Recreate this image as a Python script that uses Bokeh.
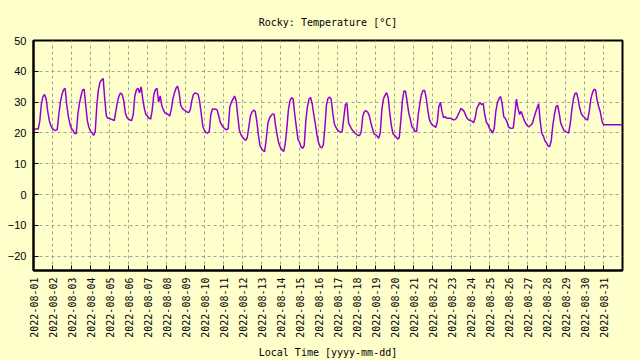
import math
import pandas as pd
from bokeh.plotting import figure
from bokeh.models import (FixedTicker, DatetimeTickFormatter, Range1d,
                          ColumnDataSource, GlobalInlineStyleSheet)
from bokeh.embed import file_html
from bokeh.resources import INLINE

# ---- data: 2-hourly temperature readings [°C], one list per day (00:00 .. 22:00)
aug01 = [21.3, 21.3, 21.3, 21.3, 24.0, 29.5, 31.8, 32.5, 31.0, 27.0, 24.0, 22.3]
aug02 = [21.4, 21.0, 20.8, 21.2, 26.0, 30.0, 32.5, 34.0, 34.5, 29.0, 25.5, 23.0]
aug03 = [21.4, 20.8, 19.8, 19.8, 26.0, 29.5, 32.0, 34.0, 34.2, 29.0, 24.0, 21.8]
aug04 = [20.6, 20.0, 19.2, 20.5, 29.0, 34.0, 36.5, 37.2, 37.7, 31.0, 25.5, 24.8]
aug05 = [24.8, 24.5, 24.3, 24.0, 27.0, 30.0, 32.0, 33.0, 32.5, 30.5, 26.5, 25.0]
aug06 = [24.5, 24.2, 24.0, 26.0, 32.0, 34.0, 34.5, 33.0, 35.0, 31.0, 28.0, 26.0]
aug07 = [25.5, 24.8, 24.5, 27.5, 32.5, 34.0, 34.5, 30.0, 32.0, 29.0, 27.5, 26.5]
aug08 = [26.3, 26.0, 25.5, 27.5, 31.0, 33.0, 34.5, 35.2, 33.0, 29.0, 28.0, 27.5]
aug09 = [27.2, 26.8, 26.6, 27.5, 30.5, 32.5, 33.0, 32.8, 32.5, 30.0, 26.0, 22.0]
aug10 = [20.8, 20.1, 20.0, 20.5, 26.0, 27.8, 27.8, 27.7, 27.5, 25.5, 23.5, 22.5]
aug11 = [21.8, 21.3, 21.0, 21.5, 28.5, 30.0, 31.0, 32.0, 30.5, 25.5, 21.0, 19.5]
aug12 = [18.7, 18.0, 17.6, 18.5, 22.0, 25.5, 26.8, 27.4, 27.0, 24.0, 19.5, 16.0]
aug13 = [15.0, 14.3, 14.0, 18.0, 23.0, 24.8, 25.6, 26.2, 26.0, 22.0, 19.0, 16.5]
aug14 = [15.2, 14.5, 14.0, 16.5, 21.5, 27.5, 30.5, 31.5, 31.0, 26.0, 22.0, 18.0]
aug15 = [17.0, 15.5, 15.0, 16.0, 24.0, 28.5, 31.0, 31.5, 29.5, 26.0, 23.0, 19.5]
aug16 = [17.0, 15.5, 15.2, 16.0, 21.5, 29.0, 31.2, 31.7, 31.0, 26.5, 23.0, 21.8]
aug17 = [21.0, 20.5, 20.2, 20.6, 25.0, 29.3, 29.5, 23.2, 22.2, 21.2, 20.6, 20.0]
aug18 = [19.6, 19.2, 19.2, 20.5, 25.5, 27.0, 27.2, 26.8, 25.7, 23.5, 21.6, 19.8]
aug19 = [19.5, 19.0, 18.3, 20.0, 27.5, 31.0, 32.2, 33.1, 31.5, 26.5, 22.5, 19.8]
aug20 = [19.3, 18.7, 18.0, 18.5, 24.0, 30.5, 33.7, 33.5, 30.0, 26.5, 24.5, 22.0]
aug21 = [21.5, 20.5, 20.5, 26.0, 29.5, 32.5, 33.8, 33.8, 31.5, 27.5, 24.5, 23.2]
aug22 = [22.5, 22.3, 21.8, 23.5, 28.5, 30.0, 27.0, 25.0, 25.3, 24.8, 24.8, 24.8]
aug23 = [24.7, 24.3, 24.3, 24.7, 25.7, 26.8, 28.0, 27.5, 27.0, 25.7, 24.7, 24.2]
aug24 = [24.0, 23.8, 23.3, 25.0, 28.0, 29.0, 29.8, 29.2, 29.6, 26.0, 23.5, 22.8]
aug25 = [21.5, 20.8, 20.0, 21.5, 27.0, 29.8, 31.2, 31.8, 29.5, 25.3, 24.7, 23.7]
aug26 = [22.0, 21.6, 21.5, 21.6, 26.0, 31.0, 28.0, 26.0, 27.0, 25.5, 24.0, 23.0]
aug27 = [22.3, 22.0, 22.5, 23.0, 24.8, 26.5, 28.0, 29.5, 24.0, 20.0, 19.0, 17.5]
aug28 = [16.8, 15.8, 15.6, 17.5, 22.5, 26.0, 28.5, 29.0, 26.5, 23.2, 22.0, 20.8]
aug29 = [20.5, 20.2, 20.0, 23.0, 27.5, 31.0, 32.8, 33.0, 31.0, 28.0, 26.2, 25.5]
aug30 = [25.0, 24.5, 24.2, 27.0, 31.0, 33.0, 34.2, 34.0, 30.5, 28.5, 26.8, 24.0]
aug31 = [22.7, 22.7, 22.7, 22.7, 22.7, 22.7, 22.7, 22.7, 22.7, 22.7, 22.7, 22.7]
sep01 = [22.7]

tick_dates = ["2022-08-%02d" % d for d in range(1, 32)]
y_ticks = [-20, -10, 0, 10, 20, 30, 40, 50]
title_text = "Rocky: Temperature [°C]"
x_label = "Local Time [yyyy-mm-dd]"

# ---- build series
daily = [aug01, aug02, aug03, aug04, aug05, aug06, aug07, aug08, aug09, aug10,
         aug11, aug12, aug13, aug14, aug15, aug16, aug17, aug18, aug19, aug20,
         aug21, aug22, aug23, aug24, aug25, aug26, aug27, aug28, aug29, aug30,
         aug31, sep01]
temps = [v for day in daily for v in day]
start = pd.Timestamp("2022-08-01 00:00")
times = [start + pd.Timedelta(hours=2 * i) for i in range(len(temps))]
src = ColumnDataSource(dict(t=times, temp=temps))

def ms(ts):
    return pd.Timestamp(ts).value // 10**6

BG = "#ffffcc"
GRID = "#a0a0a0"
LINE = "#9400d3"
MONO = "DejaVu Sans Mono"

p = figure(width=640, height=360, output_backend="svg", toolbar_location=None,
           x_axis_type="datetime",
           x_range=Range1d(ms("2022-08-01"), ms("2022-09-01")),
           y_range=Range1d(-24.6, 50),
           min_border_left=33, min_border_right=18, min_border_top=40,
           min_border_bottom=89,
           background_fill_color=BG, border_fill_color=BG,
           outline_line_color="black", outline_line_width=2,
           stylesheets=[GlobalInlineStyleSheet(css="body { background-color: #ffffcc; }")])

p.title.text = title_text
p.title.align = "center"
p.title.text_font = MONO
p.title.text_font_size = "10px"
p.title.text_font_style = "normal"
p.title.text_color = "black"
p.title.standoff = 26

p.line("t", "temp", source=src, line_color=LINE, line_width=1.5)

# x axis
xa = p.xaxis[0]
xa.ticker = FixedTicker(ticks=[ms(d) for d in tick_dates])
xa.formatter = DatetimeTickFormatter(days="%Y-%m-%d", months="%Y-%m-%d",
                                     hours="%Y-%m-%d")
xa.major_label_orientation = math.pi / 2
xa.major_label_text_font = MONO
xa.major_label_text_font_size = "10px"
xa.major_label_text_color = "black"
xa.major_label_standoff = 7
xa.major_tick_in = 5
xa.major_tick_out = 0
xa.minor_tick_in = 0
xa.minor_tick_out = 0
xa.axis_line_width = 2
xa.axis_label = x_label
xa.axis_label_text_font = MONO
xa.axis_label_text_font_size = "10px"
xa.axis_label_text_font_style = "normal"
xa.axis_label_text_color = "black"
xa.axis_label_standoff = 6

# y axis
ya = p.yaxis[0]
ya.ticker = FixedTicker(ticks=y_ticks)
ya.major_label_text_font = "Liberation Sans"
ya.major_label_text_font_size = "11px"
ya.major_label_text_color = "black"
ya.major_label_standoff = 7
ya.major_tick_in = 5
ya.major_tick_out = 0
ya.minor_tick_in = 0
ya.minor_tick_out = 0
ya.axis_line_width = 2

for g in (p.xgrid[0], p.ygrid[0]):
    g.grid_line_color = GRID
    g.grid_line_dash = "3 3"
    g.grid_line_width = 1
p.ygrid[0].ticker = FixedTicker(ticks=y_ticks)

open("out.html", "w").write(file_html(p, INLINE))
